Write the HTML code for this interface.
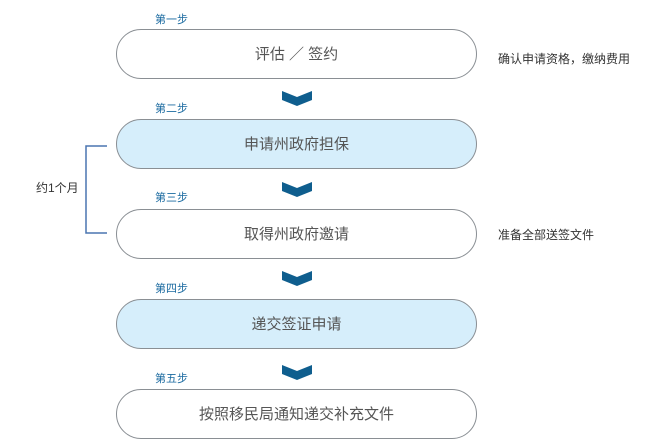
<!DOCTYPE html>
<html><head><meta charset="utf-8"><style>
body{margin:0;width:657px;height:447px;background:#fff;position:relative;font-family:"Liberation Sans","Noto Sans CJK SC",sans-serif;overflow:hidden}
.b{position:absolute;left:116px;width:361px;height:50px;border:1px solid #8a8f94;border-radius:26px;box-sizing:border-box;text-align:center;line-height:50px;font-size:15px;color:#555;background:#fff}
.blue{background:#d6eefb}
.s{position:absolute;left:155px;font-size:11px;color:#1a6aa0}
.r{position:absolute;left:498px;font-size:12px;color:#333}
</style></head><body>
<div class="s" style="top:11px">第一步</div>
<div class="b" style="top:29px">评估 ／ 签约</div>
<div class="s" style="top:100px">第二步</div>
<div class="b blue" style="top:119px">申请州政府担保</div>
<div class="s" style="top:189px">第三步</div>
<div class="b" style="top:209px">取得州政府邀请</div>
<div class="s" style="top:280px">第四步</div>
<div class="b blue" style="top:299px">递交签证申请</div>
<div class="s" style="top:370px">第五步</div>
<div class="b" style="top:389px">按照移民局通知递交补充文件</div>
<div class="r" style="top:50px">确认申请资格，缴纳费用</div>
<div class="r" style="top:226px">准备全部送签文件</div>
<div style="position:absolute;left:36px;top:179px;font-size:12px;color:#333">约1个月</div>
<svg width="657" height="447" style="position:absolute;left:0;top:0">
<g fill="#0f5e8e">
<polygon points="282,91 297,97 312,91 312,100 297,106 282,100"/>
<polygon points="282,182 297,188 312,182 312,191 297,197 282,191"/>
<polygon points="282,271 297,277 312,271 312,280 297,286 282,280"/>
<polygon points="282,365 297,371 312,365 312,374 297,380 282,374"/>
</g>
<polyline points="107,146 86,146 86,233 107,233" fill="none" stroke="#4a75b0" stroke-width="1.5"/>
</svg>
</body></html>
